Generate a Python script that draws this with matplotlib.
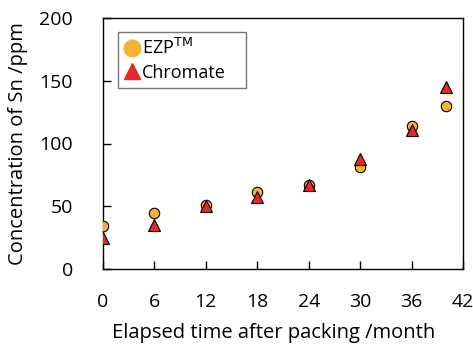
import matplotlib
matplotlib.use("Agg")
import matplotlib.pyplot as plt
from matplotlib.lines import Line2D

months = [0, 6, 12, 18, 24, 30, 36, 40]
ezp = [34, 45, 51, 61, 67, 81, 114, 130]
chromate = [25, 35, 50, 57, 67, 88, 111, 145]
xticks = [0, 6, 12, 18, 24, 30, 36, 42]
yticks = [0, 50, 100, 150, 200]

plt.rcParams['font.family'] = ['Open Sans', 'DejaVu Sans']
orange = '#F5B335'
red = '#E8262B'

fig = plt.figure(figsize=(4.73, 3.47), dpi=100)
ax = fig.add_axes([103/473, 1-269/347, 360/473, 251/347])

ax.plot(months, ezp, 'o', color=orange, markeredgecolor='black', markeredgewidth=0.8, markersize=7.5, zorder=3)
ax.plot(months, chromate, '^', color=red, markeredgecolor='black', markeredgewidth=0.8, markersize=8.5, zorder=4)

ax.set_xlim(0, 42)
ax.set_ylim(0, 200)
ax.set_xticks(xticks)
ax.set_yticks(yticks)
ax.tick_params(direction='in', length=6, width=1, labelsize=14)
ax.tick_params(axis='x', pad=17.5)
ax.tick_params(axis='y', pad=21.5)
for s in ax.spines.values():
    s.set_linewidth(1)

ax.set_xlabel('Elapsed time after packing /month', fontsize=14.5, labelpad=10)
ax.set_ylabel('Concentration of Sn /ppm', fontsize=14.5, labelpad=8)
ax.xaxis.set_label_coords(0.474, -0.215)

handles = [
    Line2D([], [], marker='o', linestyle='none', color=orange, markersize=12),
    Line2D([], [], marker='^', linestyle='none', color=red, markersize=12),
]
leg = ax.legend(handles, ['EZP$^{\\mathrm{TM}}$', 'Chromate'], loc='upper left',
                bbox_to_anchor=(0.042, 0.945, 0.356, 0.0), mode='expand',
                fontsize=13, frameon=True, fancybox=False,
                handlelength=0.8, handletextpad=0.15, borderpad=0.35, labelspacing=0.3,
                borderaxespad=0)
leg.get_frame().set_edgecolor('#555555')
leg.get_frame().set_linewidth(1)

fig.savefig('out.png', dpi=100)
